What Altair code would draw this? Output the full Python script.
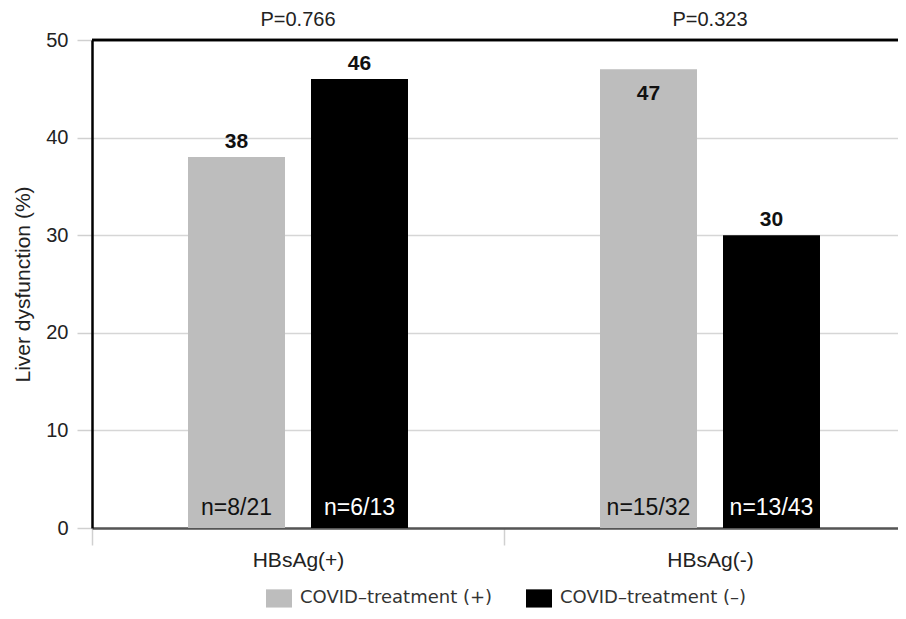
import altair as alt
import pandas as pd

# ---- data ----
groups = ["HBsAg(+)", "HBsAg(+)", "HBsAg(-)", "HBsAg(-)"]
treatments = ["COVID–treatment (+)", "COVID–treatment (–)",
              "COVID–treatment (+)", "COVID–treatment (–)"]
values = [38, 46, 47, 30]
counts = ["n=8/21", "n=6/13", "n=15/32", "n=13/43"]

group_order = ["HBsAg(+)", "HBsAg(-)"]
p_values = ["P=0.766", "P=0.323"]
treat_order = ["COVID–treatment (+)", "COVID–treatment (–)"]
colors = ["#bdbdbd", "#000000"]
y_ticks = [0, 10, 20, 30, 40, 50]
y_max = 50

df = pd.DataFrame({"group": groups, "treat": treatments, "value": values, "n": counts})
pdf = pd.DataFrame({"group": group_order, "p": p_values})

FONT = "Liberation Sans"

x_enc = alt.X(
    "group:N", sort=group_order,
    scale=alt.Scale(range=[0, 824], paddingInner=0, paddingOuter=0),
    axis=alt.Axis(title=None, labelAngle=0, labelFontSize=21, labelFont=FONT,
                  labelColor="#222", tickBand="extent", tickSize=17,
                  tickColor="#d0d0d0", tickWidth=1.5, labelPadding=4,
                  domainColor="#555", domainWidth=2.5, grid=False),
)
xo_enc = alt.XOffset("treat:N", sort=treat_order,
                     scale=alt.Scale(paddingInner=0.2114, paddingOuter=0.7805))
y_scale = alt.Scale(domain=[0, y_max], nice=False)
y_enc = alt.Y(
    "value:Q", scale=y_scale,
    axis=alt.Axis(title="Liver dysfunction (%)", values=y_ticks, tickSize=15,
                  tickColor="#d0d0d0", tickWidth=1.5, labelFontSize=20,
                  labelFont=FONT, labelColor="#222", labelPadding=9,
                  gridColor="#d6d6d6", gridWidth=1.5,
                  domain=True, domainColor="black", domainWidth=2.5,
                  titleFont=FONT, titleFontSize=21, titleFontWeight="normal",
                  titleColor="#222", titlePadding=12),
)

base = alt.Chart(df)

bars = base.mark_bar().encode(
    x=x_enc, xOffset=xo_enc, y=y_enc,
    color=alt.Color("treat:N", sort=treat_order,
                    scale=alt.Scale(domain=treat_order, range=colors),
                    legend=alt.Legend(title=None, orient="none", legendX=174, legendY=545,
                                      direction="horizontal",
                                      symbolType="M-1,-0.7H1V0.7H-1Z", symbolSize=676,
                                      symbolStrokeWidth=0, symbolOpacity=1,
                                      labelFont="DejaVu Sans", labelFontSize=18,
                                      labelColor="#333", labelOffset=8, labelLimit=0,
                                      columnPadding=33, padding=0)),
)

# top frame line of the plot area
top_rule = alt.Chart(pdf).mark_rule(color="black", strokeWidth=2.5).encode(
    y=alt.datum(y_max)
)

above = base.transform_filter("datum.value <= 46").mark_text(
    font=FONT, fontSize=21, fontWeight="bold", baseline="alphabetic", dy=-9, color="#111"
).encode(x=alt.X("group:N", sort=group_order), xOffset=alt.XOffset("treat:N", sort=treat_order),
         y=alt.Y("value:Q"), text="value:Q")

inside = base.transform_filter("datum.value > 46").mark_text(
    font=FONT, fontSize=21, fontWeight="bold", baseline="alphabetic", dy=31, color="#111"
).encode(x=alt.X("group:N", sort=group_order), xOffset=alt.XOffset("treat:N", sort=treat_order),
         y=alt.Y("value:Q"), text="value:Q")

nlab = base.mark_text(font=FONT, fontSize=23, baseline="alphabetic", dy=-13).encode(
    x=alt.X("group:N", sort=group_order), xOffset=alt.XOffset("treat:N", sort=treat_order),
    y=alt.datum(0),
    text="n:N",
    color=alt.condition("datum.treat == '" + treat_order[1] + "'",
                        alt.value("white"), alt.value("#111")),
)

plab = alt.Chart(pdf).mark_text(font=FONT, fontSize=20, baseline="middle", color="#222").encode(
    x=alt.X("group:N", sort=group_order), y=alt.value(-20), text="p:N"
)

chart = alt.layer(bars, top_rule, above, inside, nlab, plab).properties(
    width=806, height=488,
    autosize=alt.AutoSizeParams(type="none"),
    padding={"left": 84, "top": 32, "right": 0, "bottom": 80},
).configure_view(strokeWidth=0)

chart.save("out.html", embed_options={"renderer": "svg", "actions": False})
